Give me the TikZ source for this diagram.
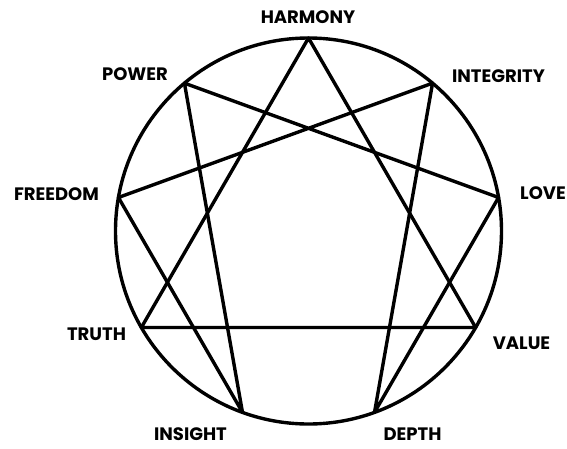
\documentclass[tikz,border=0pt]{standalone}
\usepackage{fontspec}
\setmainfont{Poppins}
\usepackage{tikz}
\usetikzlibrary{positioning, calc}

\begin{document}
\begin{tikzpicture}[x=1pt, y=1pt,
  ring/.style={draw=black, line width=3.4pt},
  figline/.style={draw=black, line width=3.4pt, line join=round},
  tag/.style={font=\fontsize{18}{18}\selectfont\bfseries, inner sep=0pt}]

  \useasboundingbox (-308.5,-217) rectangle (258.5,231);

  \coordinate (c) at (0,0);
  \coordinate (p9) at (90:193);
  \coordinate (p1) at (50:193);
  \coordinate (p2) at (10:193);
  \coordinate (p3) at (-30:193);
  \coordinate (p4) at (-70:193);
  \coordinate (p5) at (-110:193);
  \coordinate (p6) at (-150:193);
  \coordinate (p7) at (170:193);
  \coordinate (p8) at (130:193);

  \draw[ring] (c) circle (193);

  % triangle 9-3-6
  \draw[figline] (p9) -- (p3) -- (p6) -- cycle;
  % hexad 1-4-2-8-5-7
  \draw[figline] (p1) -- (p4) -- (p2) -- (p8) -- (p5) -- (p7) -- cycle;

  \node[tag] (harmony) at (-0.5,214) {HARMONY};
  \node[tag] (integrity) at (190,155) {INTEGRITY};
  \node[tag] (love) at (234.5,38) {LOVE};
  \node[tag] (value) at (213,-112) {VALUE};
  \node[tag] (depth) at (104,-203.5) {DEPTH};
  \node[tag] (insight) at (-118,-203.5) {INSIGHT};
  \node[tag] (truth) at (-212,-103) {TRUTH};
  \node[tag] (freedom) at (-252,37) {FREEDOM};
  \node[tag] (power) at (-173.5,157) {POWER};
\end{tikzpicture}
\end{document}
